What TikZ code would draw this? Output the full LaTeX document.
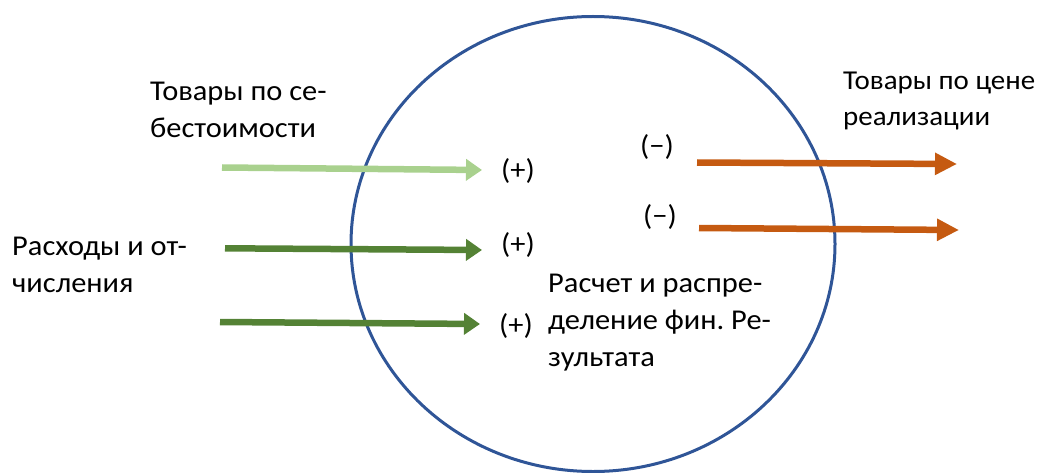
\documentclass[tikz,border=0pt]{standalone}
\usepackage{fontspec}
\setmainfont{Carlito}[FakeStretch=1.06]
\frenchspacing
\usetikzlibrary{arrows.meta,shapes.geometric}
\definecolor{ringblue}{HTML}{2F5597}
\definecolor{lightgreen}{HTML}{A9D18E}
\definecolor{darkgreen}{HTML}{548235}
\definecolor{rustorange}{HTML}{C55A11}
\tikzset{
  txt/.style={inner sep=0pt, anchor=base west, align=left, font=\fontsize{28.7}{37}\selectfont},
  sign/.style={inner sep=0pt, anchor=center, font=\fontsize{28.7}{37}\selectfont},
  inflow/.style={line width=6.5pt, -{Triangle[length=16pt,width=21pt]}},
  outflow/.style={line width=6.5pt, rustorange, -{Triangle[length=22pt,width=21pt]}},
}
\begin{document}
\begin{tikzpicture}[x=1pt,y=-1pt]
\useasboundingbox (0,0) rectangle (1040,473);
\node[draw=ringblue, line width=3pt, ellipse, inner sep=0pt, minimum width=484pt, minimum height=455pt] (ring) at (593,244) {};
% arrow end points
\coordinate (a1s) at (222,167.5); \coordinate (a1e) at (482,170);
\coordinate (a2s) at (225,248.3); \coordinate (a2e) at (482,250);
\coordinate (a3s) at (220,322);   \coordinate (a3e) at (480,324);
\coordinate (b1s) at (697,162.5); \coordinate (b1e) at (957,164);
\coordinate (b2s) at (699,228);   \coordinate (b2e) at (959,230);
\draw[inflow, lightgreen] (a1s) -- (a1e);
\draw[inflow, darkgreen] (a2s) -- (a2e);
\draw[inflow, darkgreen] (a3s) -- (a3e);
\draw[outflow] (b1s) -- (b1e);
\draw[outflow] (b2s) -- (b2e);
% texts (anchor at baseline of last line)
\node[txt] (t1) at (150,138) {Товары по се-\\бестоимости};
\node[txt] (t2) at (12,292) {Расходы и от-\\числения};
\node[txt, font=\fontsize{27.3}{36}\selectfont] (t3) at (843,126) {Товары по цене\\реализации};
\node[txt] (t4) at (548,366) {Расчет и распре-\\деление фин. Ре-\\зультата};
\node[sign] (p1) at (518,171) {(+)};
\node[sign] (p2) at (518,245) {(+)};
\node[sign] (p3) at (516,326) {(+)};
\node[sign] (m1) at (657,147) {(−)};
\node[sign] (m2) at (660,217) {(−)};
\end{tikzpicture}
\end{document}
